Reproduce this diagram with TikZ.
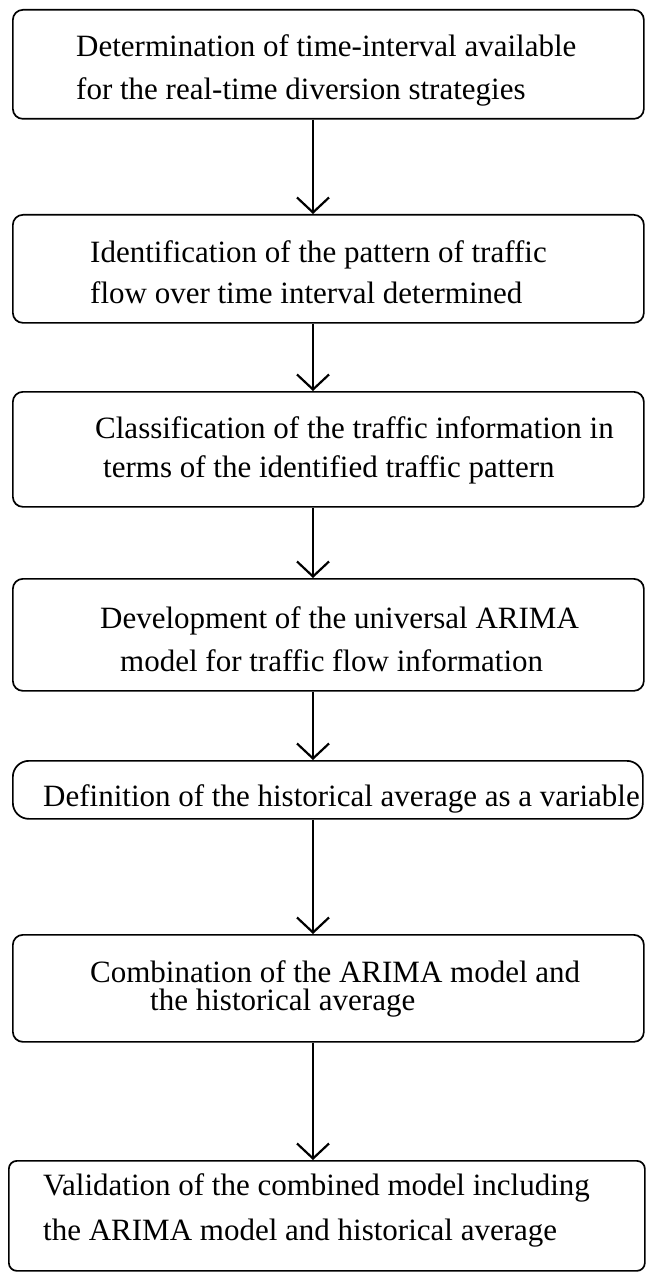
\documentclass[tikz,border=0pt]{standalone}
\usepackage{fontspec}
\setmainfont{Liberation Serif}
\usetikzlibrary{arrows.meta}
\tikzset{
  box/.style={draw, line width=1.7pt, rounded corners=10pt, anchor=north west, inner sep=0pt},
  txt/.style={anchor=base west, inner sep=0pt, font=\fontsize{31}{36}\selectfont},
  arr/.style={line width=1.5pt, -{Straight Barb[length=15pt,width=32pt,line width=2.2pt]}}
}
\begin{document}
\begin{tikzpicture}[x=1pt,y=1pt]
\useasboundingbox (0,0) rectangle (645,-1273);
\coordinate (ax) at (313,0);
% boxes
\node[box, minimum width=631pt, minimum height=109pt] (b1) at (12,-9) {};
\node[box, minimum width=631pt, minimum height=108pt] (b2) at (12,-214) {};
\node[box, minimum width=631pt, minimum height=115pt] (b3) at (12,-391) {};
\node[box, minimum width=631pt, minimum height=112pt] (b4) at (12,-578) {};
\node[box, rounded corners=16pt, minimum width=630pt, minimum height=58pt] (b5) at (12,-760) {};
\node[box, minimum width=631pt, minimum height=107pt] (b6) at (12,-934) {};
\node[box, rounded corners=8pt, minimum width=636pt, minimum height=110pt] (b7) at (8,-1160) {};
% texts
\node[txt] (t1a) at (76,-57) {Determination of time-interval available};
\node[txt] (t1b) at (76,-100) {for the real-time diversion strategies};
\node[txt] (t2a) at (90,-262) {Identification of the pattern of traffic};
\node[txt] (t2b) at (90,-303) {flow over time interval determined};
\node[txt] (t3a) at (95,-438) {Classification of the traffic information in};
\node[txt] (t3b) at (103,-477) {terms of the identified traffic pattern};
\node[txt] (t4a) at (100,-628) {Development of the universal ARIMA};
\node[txt] (t4b) at (120,-671) {model for traffic flow information};
\node[txt] (t5) at (43,-806) {Definition of the historical average as a variable};
\node[txt] (t6a) at (90,-982) {Combination of the ARIMA model and};
\node[txt] (t6b) at (150,-1010) {the historical average};
\node[txt] (t7a) at (43,-1195) {Validation of the combined model including};
\node[txt] (t7b) at (43,-1240) {the ARIMA model and historical average};
% arrows
\draw[arr] (b1.south -| ax) -- (b2.north -| ax);
\draw[arr] (b2.south -| ax) -- (b3.north -| ax);
\draw[arr] (b3.south -| ax) -- (b4.north -| ax);
\draw[arr] (b4.south -| ax) -- (b5.north -| ax);
\draw[arr] (b5.south -| ax) -- (b6.north -| ax);
\draw[arr] (b6.south -| ax) -- (b7.north -| ax);
\end{tikzpicture}
\end{document}
